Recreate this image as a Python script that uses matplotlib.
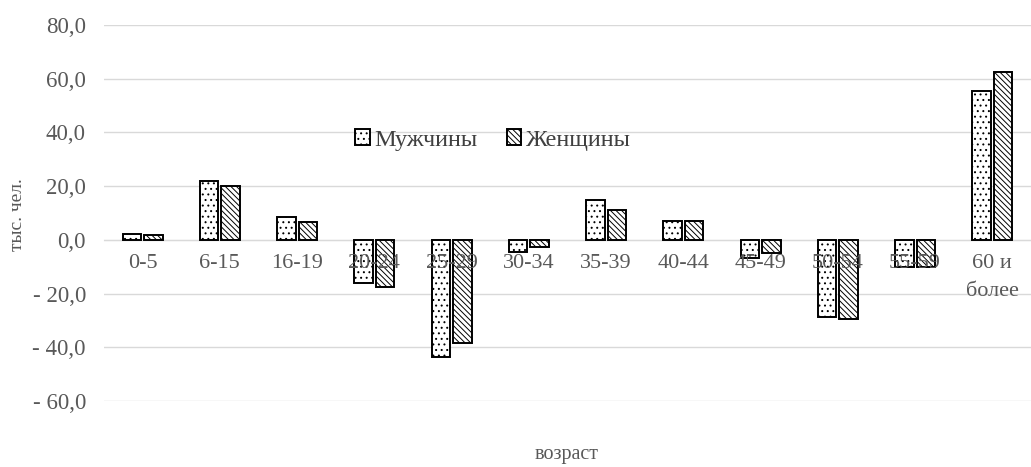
import matplotlib.pyplot as plt
import numpy as np
from matplotlib.ticker import FuncFormatter

plt.rcParams['font.family'] = ['Liberation Serif', 'DejaVu Serif']
plt.rcParams['hatch.linewidth'] = 0.7

groups = ["0-5", "6-15", "16-19", "20-24", "25-29", "30-34", "35-39",
          "40-44", "45-49", "50-54", "55-59", "60 и\nболее"]
men = [2.2, 22.0, 8.6, -16.2, -43.8, -4.4, 14.7, 7.0, -6.8, -28.6, -10.0, 55.3]
women = [1.8, 20.1, 6.5, -17.4, -38.3, -2.6, 11.2, 7.0, -5.0, -29.6, -10.0, 62.6]

grey = "#595959"
fig = plt.figure(figsize=(10.31, 4.67), dpi=100)
ax = fig.add_axes([104/1031, 1-401/467, 1-104/1031, (401-25)/467])

x = np.arange(len(groups))
w = 0.24
ax.bar(x - 0.14, men, w, color="white", edgecolor="black", linewidth=1.4,
       hatch="...", label="Мужчины", zorder=3)
ax.bar(x + 0.14, women, w, color="white", edgecolor="black", linewidth=1.4,
       hatch="\\\\\\\\\\\\", label="Женщины", zorder=3)

ax.set_xlim(-0.5, len(groups) - 0.5)
ax.set_ylim(-60, 80)
ax.set_yticks(np.arange(-60, 81, 20))
ax.yaxis.set_major_formatter(FuncFormatter(
    lambda v, p: ("- " if v < 0 else "") + f"{abs(v):.1f}".replace(".", ",")))
ax.grid(axis="y", color="#d9d9d9", linewidth=1, zorder=0)

ax.set_xticks(x)
ax.set_xticklabels(groups)
ax.xaxis.set_zorder(4)  # category labels sit on top of the bars
for s in ["top", "right", "left"]:
    ax.spines[s].set_visible(False)
ax.spines["bottom"].set_position(("data", 0))
ax.spines["bottom"].set_color("#d9d9d9")
ax.tick_params(axis="both", length=0, labelcolor=grey)
ax.tick_params(axis="x", pad=10, labelsize=16)
ax.tick_params(axis="y", pad=13, labelsize=16.5)
for t in ax.get_xticklabels():
    t.set_linespacing(1.65)

fig.text(18/1031, 1-215/467, "тыс. чел.", rotation=90, ha="center",
         va="center", fontsize=14, color=grey)
fig.text(0.55, 1-455/467, "возраст", ha="center", va="center",
         fontsize=14.5, color=grey)

ax.legend(loc="center", bbox_to_anchor=((493-104)/927, (401-140)/376),
          ncol=2, frameon=False, fontsize=17.5, handlelength=0.6,
          handleheight=0.6, handletextpad=0.2, columnspacing=1.2,
          labelcolor="#404040")

fig.savefig("out.png", dpi=100)
